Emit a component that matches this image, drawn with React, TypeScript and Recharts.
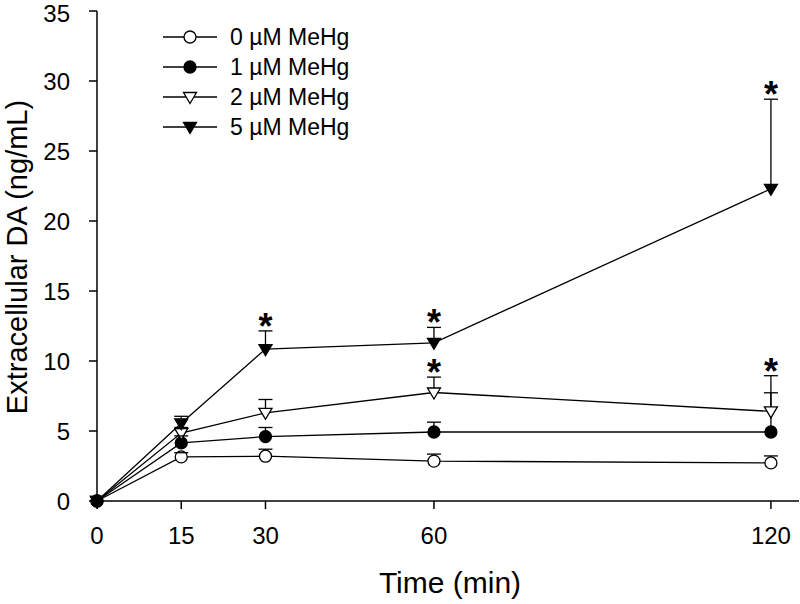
import React from 'react';
import { LineChart, Line, XAxis, YAxis, ErrorBar, Legend } from 'recharts';

const times = [0, 15, 30, 60, 120];
const mean0 = [0, 3.15, 3.2, 2.85, 2.72];
const err0 = [0, 0.3, 0.5, 0.5, 0.5];
const mean1 = [0, 4.15, 4.6, 4.93, 4.93];
const err1 = [0, 0.5, 0.65, 0.7, 2.8];
const mean2 = [0, 4.85, 6.3, 7.75, 6.4];
const err2 = [0, 0.4, 0.95, 1.1, 2.55];
const mean5 = [0, 5.55, 10.85, 11.3, 22.3];
const err5 = [0, 0.5, 1.3, 1.1, 6.4];
const star2 = [false, false, false, true, true];
const star5 = [false, false, true, true, true];
const xTicks = [0, 15, 30, 60, 120];
const yTicks = [0, 5, 10, 15, 20, 25, 30, 35];
const seriesNames = ['0 µM MeHg', '1 µM MeHg', '2 µM MeHg', '5 µM MeHg'];

const FONT = 'Liberation Sans, Arial, Helvetica, sans-serif';

const means = [mean0, mean1, mean2, mean5];
const errs = [err0, err1, err2, err5];
const stars = [[false, false, false, false, false], [false, false, false, false, false], star2, star5];

const data = times.map((t, i) => {
  const row: any = { t };
  means.forEach((m, k) => {
    row['m' + k] = m[i];
    row['e' + k] = [0, errs[k][i]];
    row['c' + k] = errs[k][i] > 0 ? m[i] + errs[k][i] : null;
    row['s' + k] = stars[k][i] ? m[i] + errs[k][i] : null;
  });
  return row;
});

const SW = 1.3;

const MarkerShape = ({ kind, cx, cy }: { kind: number; cx: number; cy: number }) => {
  if (cx == null || cy == null) return <g />;
  if (kind === 0 || kind === 1) {
    return <circle cx={cx} cy={cy} r={6} fill={kind === 0 ? '#fff' : '#000'} stroke="#000" strokeWidth={SW} />;
  }
  const pts = `${cx - 6.5},${cy - 4.5} ${cx + 6.5},${cy - 4.5} ${cx},${cy + 6.5}`;
  return <polygon points={pts} fill={kind === 2 ? '#fff' : '#000'} stroke="#000" strokeWidth={SW} strokeLinejoin="miter" />;
};

const makeDot = (kind: number) => (p: any) => <MarkerShape key={`d${kind}-${p.index}`} kind={kind} cx={p.cx} cy={p.cy} />;

const CapDot = (p: any) => {
  if (p.cx == null || p.cy == null || p.value == null) return <g key={`c-${p.index}`} />;
  return <line key={`c-${p.dataKey}-${p.index}`} x1={p.cx - 7} x2={p.cx + 7} y1={p.cy} y2={p.cy} stroke="#000" strokeWidth={SW} />;
};

const StarDot = (p: any) => {
  if (p.cx == null || p.cy == null || p.value == null) return <g key={`s-${p.index}`} />;
  return (
    <text key={`s-${p.dataKey}-${p.index}`} x={p.cx} y={p.cy + 8} textAnchor="middle" fontFamily={FONT} fontWeight="bold" fontSize={36} fill="#000">
      *
    </text>
  );
};

const LegendContent = () => (
  <svg width={260} height={130}>
    {seriesNames.map((n, k) => {
      const y = 22 + k * 30;
      return (
        <g key={n}>
          <line x1={13} x2={67} y1={y} y2={y} stroke="#000" strokeWidth={SW} />
          <MarkerShape kind={k} cx={40} cy={y} />
          <text x={80} y={y + 8} fontFamily={FONT} fontSize={23} fill="#000">
            {n}
          </text>
        </g>
      );
    })}
  </svg>
);

export default function App() {
  return (
    <div style={{ position: 'absolute', left: 0, top: 0, background: '#fff' }}>
      <LineChart width={800} height={604} data={data} margin={{ top: 11, right: 1, left: 37, bottom: 43 }}>
        <XAxis
          type="number"
          dataKey="t"
          domain={[0, 125]}
          ticks={xTicks}
          tickSize={8}
          tickMargin={18}
          axisLine={{ stroke: '#000', strokeWidth: 1.5 }}
          tickLine={{ stroke: '#000', strokeWidth: 1.5 }}
          tick={{ fill: '#000', fontSize: 24, fontFamily: FONT }}
          height={60}
          label={{
            content: () => (
              <text x={450} y={593} textAnchor="middle" fontFamily={FONT} fontSize={30} fill="#000">
                Time (min)
              </text>
            ),
          }}
        />
        <YAxis
          type="number"
          domain={[0, 35]}
          ticks={yTicks}
          tickSize={8}
          tickMargin={19}
          width={60}
          axisLine={{ stroke: '#000', strokeWidth: 1.5 }}
          tickLine={{ stroke: '#000', strokeWidth: 1.5 }}
          tick={{ fill: '#000', fontSize: 24, fontFamily: FONT }}
          label={{
            content: () => (
              <text x={27} y={257} transform="rotate(-90, 27, 257)" textAnchor="middle" fontFamily={FONT} fontSize={29} fill="#000">
                Extracellular DA (ng/mL)
              </text>
            ),
          }}
        />
        <Legend
          layout="vertical"
          align="center"
          verticalAlign="middle"
          content={LegendContent}
          wrapperStyle={{ position: 'absolute', left: 150, top: 15, width: 260, height: 130 }}
        />
        {[0, 1, 2, 3].map((k) => (
          <Line
            key={'m' + k}
            dataKey={'m' + k}
            name={seriesNames[k]}
            type="linear"
            stroke="#000"
            strokeWidth={SW}
            dot={makeDot(k)}
            activeDot={false}
            isAnimationActive={false}
          >
            <ErrorBar dataKey={'e' + k} direction="y" width={0} stroke="#000" strokeWidth={SW} />
          </Line>
        ))}
        {[0, 1, 2, 3].map((k) => (
          <Line
            key={'c' + k}
            dataKey={'c' + k}
            stroke="none"
            legendType="none"
            dot={CapDot}
            activeDot={false}
            isAnimationActive={false}
          />
        ))}
        {[0, 1, 2, 3].map((k) => (
          <Line
            key={'s' + k}
            dataKey={'s' + k}
            stroke="none"
            legendType="none"
            dot={StarDot}
            activeDot={false}
            isAnimationActive={false}
          />
        ))}
      </LineChart>
    </div>
  );
}
